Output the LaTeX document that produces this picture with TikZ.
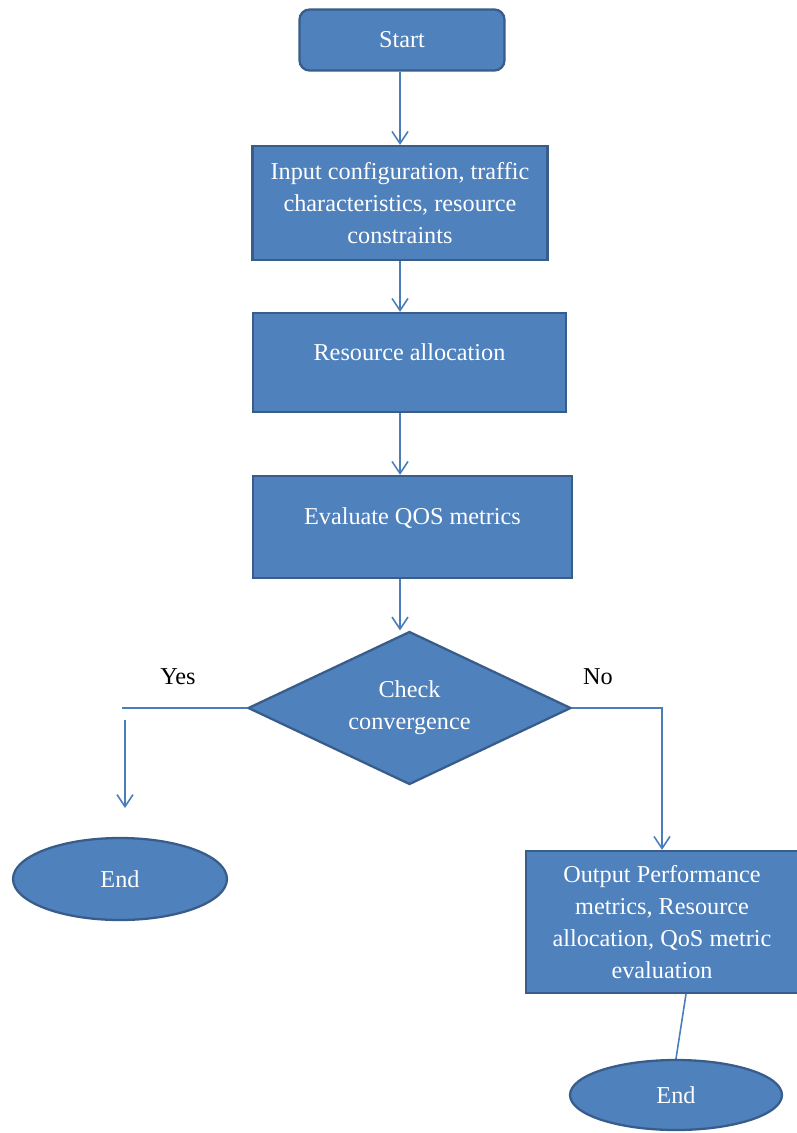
\documentclass[tikz,border=0pt]{standalone}
\usepackage{fontspec}
\setmainfont{Liberation Serif}
\usetikzlibrary{shapes.geometric,arrows.meta}
\definecolor{boxblue}{HTML}{4F81BD}
\definecolor{boxedge}{HTML}{385D8A}
\definecolor{linkblue}{HTML}{4A7EBB}
\begin{document}
\begin{tikzpicture}
        [x=0.02cm, y=-0.02cm,
        box/.style={draw=boxedge, fill=boxblue, line width=1.3pt, text=white, align=center,
                font=\fontsize{13.8}{18.2}\selectfont, inner sep=0pt},
        hightext/.style={text height=0.33cm, text depth=0.42cm},
        decision/.style={box, diamond, aspect=2.1},
        terminal/.style={box, ellipse},
        flow/.style={linkblue, line width=0.9pt, -{Straight Barb[length=2.4mm,width=3.2mm]}},
        link/.style={linkblue, line width=0.9pt},
        answer/.style={font=\fontsize{13.8}{18.2}\selectfont, text=black}]

        \useasboundingbox (0,0) rectangle (797,1133);

        \node[box, rounded corners=0.2cm, minimum width=4.1cm, minimum height=1.22cm] (start) at (402,40) {Start};
        \node[box, minimum width=5.9cm, minimum height=2.28cm] (inp) at (400,203)
                {Input configuration, traffic\\characteristics, resource\\constraints};
        \node[box, hightext, minimum width=6.26cm, minimum height=1.98cm] (alloc) at (409.5,362.5) {Resource allocation};
        \node[box, hightext, minimum width=6.38cm, minimum height=2.04cm] (eval) at (412.5,527) {Evaluate QOS metrics};
        \node[decision, minimum width=6.46cm, minimum height=3.06cm] (chk) at (409.5,708) {Check\\convergence};
        \node[terminal, minimum width=4.28cm, minimum height=1.64cm] (endl) at (120,879) {End};
        \node[box, minimum width=5.44cm, minimum height=2.84cm] (out) at (662,922)
                {Output Performance\\metrics, Resource\\allocation, QoS metric\\evaluation};

        % branch labels
        \node[answer] (yes) at (178,677) {Yes};
        \node[answer] (no) at (598,677) {No};

        % column of the main arrows
        \coordinate (col) at (400,0);
        \draw[flow] (start.south -| col) -- (inp.north -| col);
        \draw[flow] (inp.south -| col) -- (alloc.north -| col);
        \draw[flow] (alloc.south -| col) -- (eval.north -| col);
        \draw[flow] (eval.south -| col) -- (chk.north -| col);

        % yes branch
        \coordinate (yesend) at (122,708);
        \coordinate (ytop) at (125,720);
        \coordinate (ybot) at (125,808);
        \draw[link] (chk.west) -- (yesend);
        \draw[flow] (ytop) -- (ybot);

        % no branch
        \draw[flow] (chk.east) -| (out.north);
        \coordinate (tip) at (673,1078);
        \draw[flow] ([xshift=0.48cm]out.south) -- (tip);
        \node[terminal, minimum width=4.24cm, minimum height=1.4cm] (endr) at (676,1095) {End};

        \end{tikzpicture}
\end{document}
